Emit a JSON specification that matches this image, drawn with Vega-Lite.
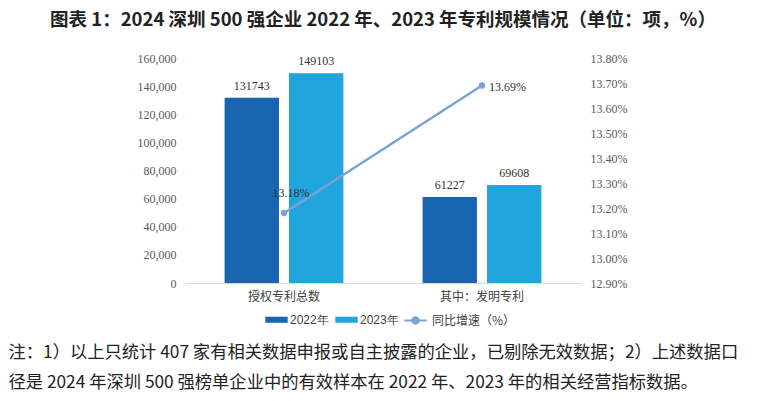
{
  "$schema": "https://vega.github.io/schema/vega-lite/v6.json",
  "autosize": {"type": "none"},
  "width": 396,
  "height": 225,
  "padding": {"left": 185, "top": 58, "right": 179, "bottom": 118},
  "background": "white",
  "title": {
    "text": "图表 1：2024 深圳 500 强企业 2022 年、2023 年专利规模情况（单位：项，%）",
    "font": "Noto Sans CJK SC",
    "fontSize": 18.5,
    "fontWeight": "bold",
    "color": "#222222",
    "anchor": "middle",
    "offset": 23
  },
  "config": {
    "view": {"stroke": null},
    "axis": {"grid": false, "ticks": false, "domain": false, "labelFont": "Liberation Serif", "labelFontSize": 12, "labelColor": "#595959"}
  },
  "datasets": {
    "bars": [
      {"category": "授权专利总数", "year": "2022年", "value": 131743},
      {"category": "授权专利总数", "year": "2023年", "value": 149103},
      {"category": "其中：发明专利", "year": "2022年", "value": 61227},
      {"category": "其中：发明专利", "year": "2023年", "value": 69608}
    ],
    "growth": [
      {"category": "授权专利总数", "series": "同比增速（%）", "rate": 0.1318, "pos": "left"},
      {"category": "其中：发明专利", "series": "同比增速（%）", "rate": 0.1369, "pos": "right"}
    ]
  },
  "encoding": {
    "x": {
      "field": "category", "type": "nominal",
      "sort": ["授权专利总数", "其中：发明专利"],
      "scale": {"paddingInner": 0.4, "paddingOuter": 0.2},
      "axis": {
        "labelAngle": 0, "domain": true, "domainColor": "#d9d9d9", "domainWidth": 1,
        "labelPadding": 8, "labelFont": "Noto Sans CJK SC", "labelFontSize": 12, "labelColor": "#404040",
        "title": ["注：1）以上只统计 407 家有相关数据申报或自主披露的企业，已剔除无效数据；2）上述数据口", "径是 2024 年深圳 500 强榜单企业中的有效样本在 2022 年、2023 年的相关经营指标数据。"],
        "titleFont": "Noto Sans CJK SC", "titleFontSize": 17.3, "titleFontWeight": "normal", "titleColor": "#222222",
        "titleAnchor": "start", "titleAlign": "left", "titleBaseline": "middle", "titleLineHeight": 30,
        "titleX": -177, "titleY": 69
      }
    }
  },
  "layer": [
    {
      "data": {"name": "bars"},
      "encoding": {
        "y": {"field": "value", "type": "quantitative", "scale": {"domain": [0, 160000]},
          "axis": {"values": [0, 20000, 40000, 60000, 80000, 100000, 120000, 140000, 160000], "format": ",.0f", "title": null, "labelPadding": 9}},
        "xOffset": {"field": "year", "type": "nominal", "scale": {"paddingInner": 0.156, "paddingOuter": 0}}
      },
      "layer": [
        {
          "mark": {"type": "bar"},
          "encoding": {
            "color": {"field": "year", "type": "nominal",
              "scale": {"domain": ["2022年", "2023年"], "range": ["#1866b1", "#21a5de"]},
              "legend": {"orient": "none", "legendX": 80, "legendY": 250, "direction": "horizontal", "title": null,
                "symbolType": "M-1,-0.27H1V0.27H-1Z", "symbolSize": 500, "symbolStrokeWidth": 0,
                "labelFont": "Liberation Sans", "labelFontSize": 12, "labelColor": "#404040", "labelOffset": 2, "columnPadding": 6}}
          }
        },
        {
          "mark": {"type": "text", "baseline": "bottom", "dy": -5, "font": "Liberation Serif", "fontSize": 12, "color": "#333333"},
          "encoding": {"text": {"field": "value", "type": "quantitative", "format": "d"}}
        }
      ]
    },
    {
      "data": {"name": "growth"},
      "encoding": {
        "y": {"field": "rate", "type": "quantitative", "scale": {"domain": [0.129, 0.138], "zero": false},
          "axis": {"orient": "right", "values": [0.129, 0.13, 0.131, 0.132, 0.133, 0.134, 0.135, 0.136, 0.137, 0.138], "format": ".2%", "title": null, "labelPadding": 9}}
      },
      "layer": [
        {
          "mark": {"type": "line", "strokeWidth": 2.5},
          "encoding": {
            "stroke": {"field": "series", "type": "nominal",
              "scale": {"domain": ["同比增速（%）"], "range": ["#7aa2d6"]},
              "legend": {"orient": "none", "legendX": 218, "legendY": 250, "direction": "horizontal", "title": null,
                "symbolType": "M-1,0H1M-0.28,0A0.28,0.28 0 1,0 0.28,0A0.28,0.28 0 1,0 -0.28,0", "symbolSize": 500, "symbolStrokeWidth": 2,
                "labelFont": "Noto Sans CJK SC", "labelFontSize": 12, "labelColor": "#404040", "labelOffset": 4,
                "encode": {"symbols": {"update": {"fill": {"value": "#7aa2d6"}}}}}}
          }
        },
        {
          "mark": {"type": "point", "filled": true, "size": 40, "opacity": 1, "color": "#7aa2d6"}
        },
        {
          "transform": [{"filter": "datum.pos == 'left'"}],
          "mark": {"type": "text", "dx": 7, "dy": -20, "font": "Liberation Serif", "fontSize": 12, "color": "#333333"},
          "encoding": {"text": {"field": "rate", "type": "quantitative", "format": ".2%"}}
        },
        {
          "transform": [{"filter": "datum.pos == 'right'"}],
          "mark": {"type": "text", "align": "left", "dx": 7, "dy": 1, "font": "Liberation Serif", "fontSize": 12, "color": "#333333"},
          "encoding": {"text": {"field": "rate", "type": "quantitative", "format": ".2%"}}
        }
      ]
    }
  ],
  "resolve": {"scale": {"y": "independent"}}
}
